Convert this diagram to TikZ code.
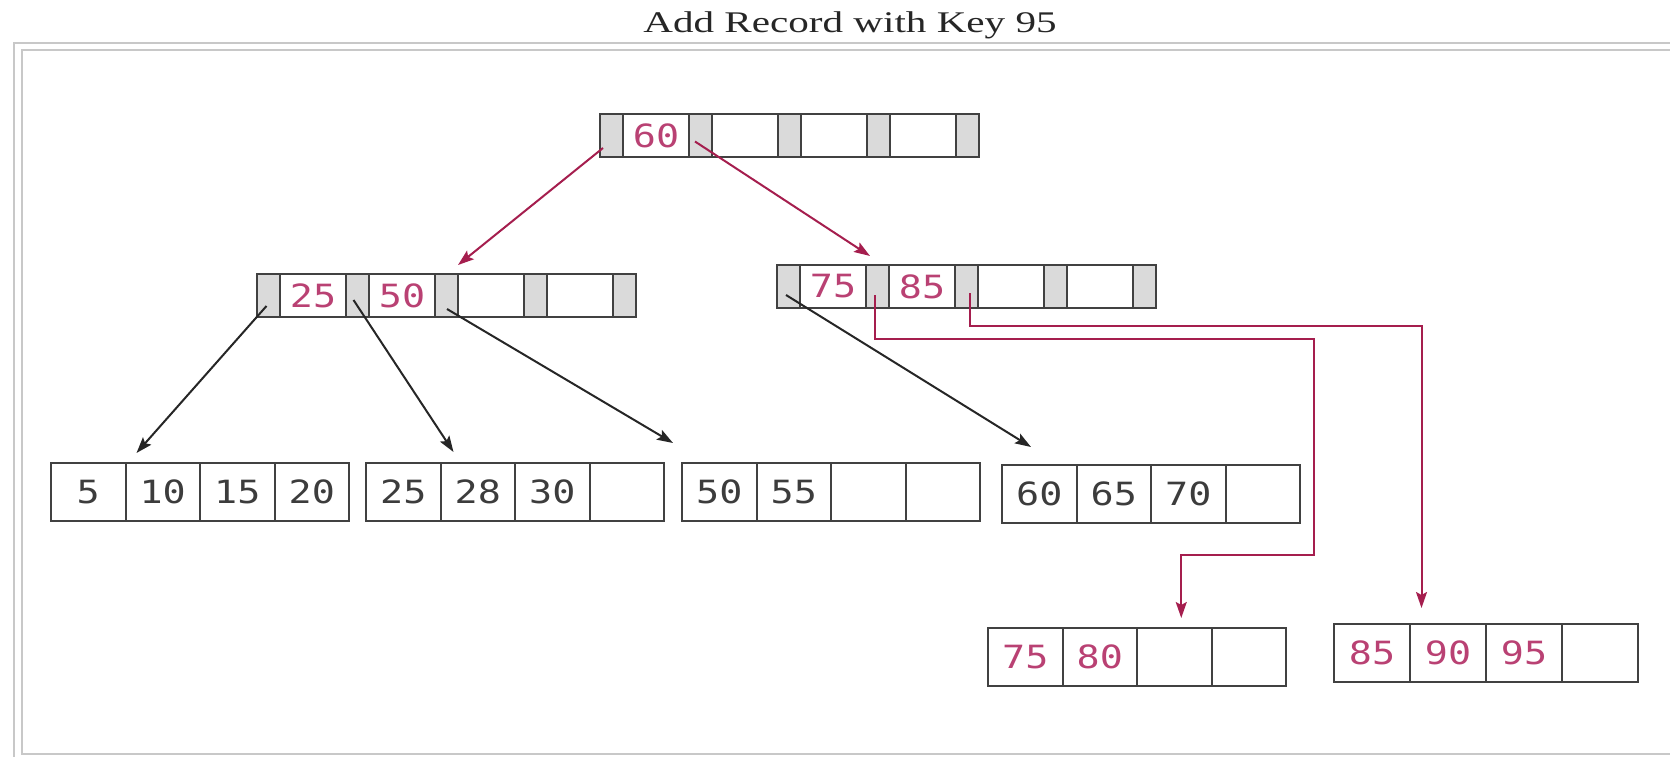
\documentclass[tikz,border=0pt]{standalone}
\usepackage{fontspec}
\usepackage{graphicx}
\setmainfont{Liberation Serif}
\newfontfamily\digitfont{DejaVu Sans Mono}
\usetikzlibrary{arrows.meta,calc,backgrounds}
\definecolor{framegray}{RGB}{200,200,200}
\definecolor{cellline}{RGB}{65,65,65}
\definecolor{ptrgray}{RGB}{218,218,218}
\definecolor{keyred}{RGB}{185,65,115}
\definecolor{linered}{RGB}{165,30,78}
\definecolor{digitgray}{RGB}{60,60,60}
\newcommand{\dg}[1]{\scalebox{1.2}[1]{#1}}
\begin{document}
\begin{tikzpicture}[x=1pt,y=-1pt,
  cell/.style={draw=cellline, line width=2pt, inner sep=0pt, outer sep=0pt, anchor=north west,
    font=\digitfont\fontsize{32}{32}\selectfont},
  ptrcell/.style={cell, minimum width=23pt, minimum height=43pt},
  keycell/.style={cell, minimum width=66pt, minimum height=43pt, text=keyred},
  leafcell/.style={cell, minimum width=74.5pt, minimum height=58pt, text=digitgray},
  redleaf/.style={leafcell, text=keyred},
  blackarrow/.style={draw=black!85, line width=2pt, -{Stealth[length=16pt,width=11pt,inset=3pt]}},
  redarrow/.style={draw=linered, line width=2pt, -{Stealth[length=16pt,width=11pt,inset=3pt]}},
  frameline/.style={draw=framegray, line width=1.5pt},
]
\useasboundingbox (0,0) rectangle (1670,757);

% frame
\draw[frameline] (1670,43) -- (14,43) -- (14,757);
\draw[frameline] (1670,50) -- (22,50) -- (22,754) -- (1670,754);

% title
\node[anchor=base, text=black!85, font=\fontsize{30}{30}\selectfont, inner sep=0pt] (title) at (850,33) {\scalebox{1.37}[1]{Add Record with Key 95}};

% root node
\node[ptrcell] (r-p0) at (600,114) {};
\node[keycell] (r-k1) at (r-p0.north east) {\dg{60}};
\node[ptrcell] (r-p1) at (r-k1.north east) {};
\node[keycell] (r-k2) at (r-p1.north east) {};
\node[ptrcell] (r-p2) at (r-k2.north east) {};
\node[keycell] (r-k3) at (r-p2.north east) {};
\node[ptrcell] (r-p3) at (r-k3.north east) {};
\node[keycell] (r-k4) at (r-p3.north east) {};
\node[ptrcell] (r-p4) at (r-k4.north east) {};

% left level-2 node
\node[ptrcell] (l-p0) at (257,274) {};
\node[keycell] (l-k1) at (l-p0.north east) {\dg{25}};
\node[ptrcell] (l-p1) at (l-k1.north east) {};
\node[keycell] (l-k2) at (l-p1.north east) {\dg{50}};
\node[ptrcell] (l-p2) at (l-k2.north east) {};
\node[keycell] (l-k3) at (l-p2.north east) {};
\node[ptrcell] (l-p3) at (l-k3.north east) {};
\node[keycell] (l-k4) at (l-p3.north east) {};
\node[ptrcell] (l-p4) at (l-k4.north east) {};

% right level-2 node
\node[ptrcell] (r2-p0) at (777,265) {};
\node[keycell] (r2-k1) at (r2-p0.north east) {\dg{75}};
\node[ptrcell] (r2-p1) at (r2-k1.north east) {};
\node[keycell] (r2-k2) at (r2-p1.north east) {\dg{85}};
\node[ptrcell] (r2-p2) at (r2-k2.north east) {};
\node[keycell] (r2-k3) at (r2-p2.north east) {};
\node[ptrcell] (r2-p3) at (r2-k3.north east) {};
\node[keycell] (r2-k4) at (r2-p3.north east) {};
\node[ptrcell] (r2-p4) at (r2-k4.north east) {};

% grey fill of the pointer cells, behind the cell borders
\begin{scope}[on background layer]
  \foreach \n in {r-p0,r-p1,r-p2,r-p3,r-p4,l-p0,l-p1,l-p2,l-p3,l-p4,r2-p0,r2-p1,r2-p2,r2-p3,r2-p4}
    \fill[ptrgray] (\n.south west) rectangle (\n.north east);
\end{scope}

% leaves
\node[leafcell] (leaf1-c1) at (51,463) {\dg{5}};
\node[leafcell] (leaf1-c2) at (leaf1-c1.north east) {\dg{10}};
\node[leafcell] (leaf1-c3) at (leaf1-c2.north east) {\dg{15}};
\node[leafcell] (leaf1-c4) at (leaf1-c3.north east) {\dg{20}};

\node[leafcell] (leaf2-c1) at (366,463) {\dg{25}};
\node[leafcell] (leaf2-c2) at (leaf2-c1.north east) {\dg{28}};
\node[leafcell] (leaf2-c3) at (leaf2-c2.north east) {\dg{30}};
\node[leafcell] (leaf2-c4) at (leaf2-c3.north east) {};

\node[leafcell] (leaf3-c1) at (682,463) {\dg{50}};
\node[leafcell] (leaf3-c2) at (leaf3-c1.north east) {\dg{55}};
\node[leafcell] (leaf3-c3) at (leaf3-c2.north east) {};
\node[leafcell] (leaf3-c4) at (leaf3-c3.north east) {};

\node[leafcell] (leaf4-c1) at (1002,465) {\dg{60}};
\node[leafcell] (leaf4-c2) at (leaf4-c1.north east) {\dg{65}};
\node[leafcell] (leaf4-c3) at (leaf4-c2.north east) {\dg{70}};
\node[leafcell] (leaf4-c4) at (leaf4-c3.north east) {};

\node[redleaf] (leaf5-c1) at (988,628) {\dg{75}};
\node[redleaf] (leaf5-c2) at (leaf5-c1.north east) {\dg{80}};
\node[redleaf] (leaf5-c3) at (leaf5-c2.north east) {};
\node[redleaf] (leaf5-c4) at (leaf5-c3.north east) {};

\node[redleaf, minimum width=76pt] (leaf6-c1) at (1334,624) {\dg{85}};
\node[redleaf, minimum width=76pt] (leaf6-c2) at (leaf6-c1.north east) {\dg{90}};
\node[redleaf, minimum width=76pt] (leaf6-c3) at (leaf6-c2.north east) {\dg{95}};
\node[redleaf, minimum width=76pt] (leaf6-c4) at (leaf6-c3.north east) {};

% connectors from root
\draw[redarrow] ($(r-p0.south west)+(3,-9)$) -- ($(l-p2.north east)+(0,-9)$);
\draw[redarrow] ($(r-p1.west)+(6,6)$) -- ($(r2-p1.north west)+(4,-9)$);

% connectors from left level-2 node
\draw[blackarrow] ($(l-p0.south)+(-2,-11)$) -- ($(leaf1-c1.north east)+(11,-10)$);
\draw[blackarrow] ($(l-p1.south)+(-4,-17)$) -- ($(leaf2-c2.north west)+(13,-11)$);
\draw[blackarrow] ($(l-p2.south)+(0.5,-8)$) -- ($(leaf3-c1.north west)+(-9,-20)$);

% connectors from right level-2 node
\draw[blackarrow] ($(r2-p0.south)+(-2.5,-13)$) -- ($(leaf4-c1.north west)+(29,-18)$);
\draw[redarrow] ($(r2-p1.south)+(-2.5,-13)$) -- ++(0,44) -- ++(439,0) -- ++(0,216)
  -| ($(leaf5-c3.north)+(7,-10)$);
\draw[redarrow] ($(r2-p2.south)+(3.5,-15)$) -- ++(0,33)
  -| ($(leaf6-c2.north west)+(11.5,-16)$);
\end{tikzpicture}
\end{document}
